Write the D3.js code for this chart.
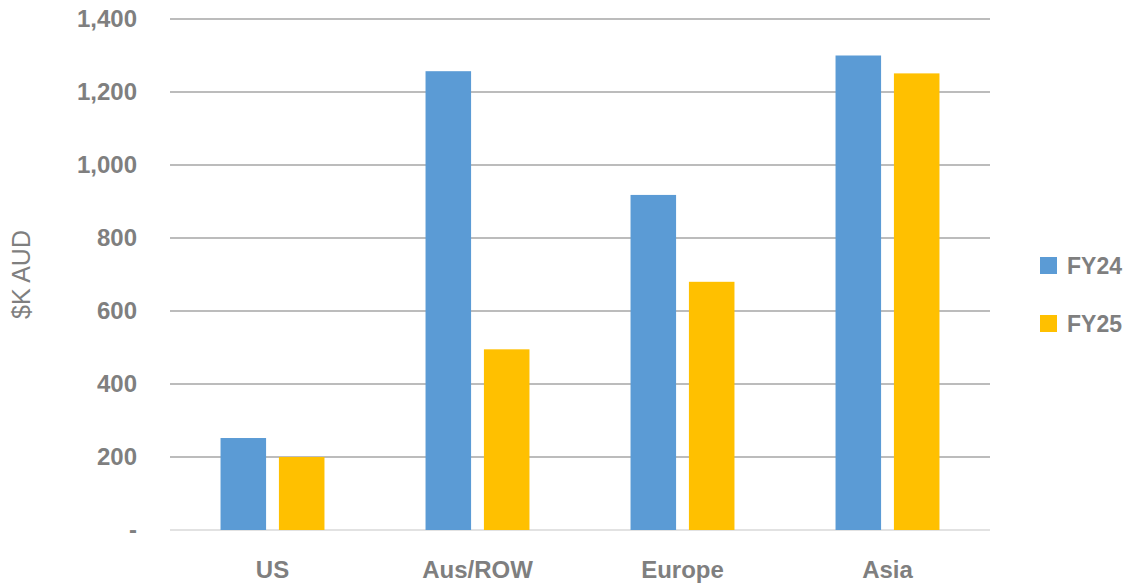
<!DOCTYPE html>
<html>
<head>
<meta charset="utf-8">
<script src="https://cdn.jsdelivr.net/npm/d3@7"></script>
<style>
  body { margin: 0; background: #fff; }
  text { font-family: "Liberation Sans", Arial, sans-serif; }
</style>
</head>
<body>
<div id="chart"></div>
<script>
// Данные графика
const categories = ['US', 'Aus/ROW', 'Europe', 'Asia']
const seriesNames = ['FY24', 'FY25']
const fy24 = [252, 1257, 918, 1300]
const fy25 = [200, 495, 680, 1251]
const yTicks = [0, 200, 400, 600, 800, 1000, 1200, 1400]
const colors = ['#5B9BD5', '#FFC000']

const W = 1148, H = 585
const plotLeft = 170, plotRight = 990, plotTop = 19, plotBottom = 530

let svg = d3.select('#chart').append('svg')
  .attr('width', W)
  .attr('height', H)

let y = d3.scaleLinear().domain([0, 1400]).range([plotBottom, plotTop])

let x0 = d3.scaleBand().domain(categories).range([plotLeft, plotRight])
  .paddingInner(0.493).paddingOuter(0.2465)

let x1 = d3.scaleBand().domain(seriesNames).range([0, x0.bandwidth()])
  .paddingInner(0.22)

// сетка
svg.append('g')
  .selectAll('line')
  .data(yTicks)
  .join('line')
  .attr('x1', plotLeft)
  .attr('x2', plotRight)
  .attr('y1', d => y(d))
  .attr('y2', d => y(d))
  .style('stroke', d => d === 0 ? '#d9d9d9' : '#a6a6a6')
  .style('stroke-width', 1.5)

// подписи оси Y
svg.append('g')
  .selectAll('text')
  .data(yTicks)
  .join('text')
  .attr('x', 137)
  .attr('y', d => y(d))
  .attr('dy', '0.35em')
  .attr('text-anchor', 'end')
  .style('font-size', '24px')
  .style('font-weight', 'bold')
  .style('fill', '#7f7f7f')
  .text(d => d === 0 ? '-' : d3.format(',')(d))

// заголовок оси Y
svg.append('text')
  .attr('transform', `translate(30,${(plotTop + plotBottom) / 2}) rotate(-90)`)
  .attr('text-anchor', 'middle')
  .style('font-size', '25px')
  .style('fill', '#7f7f7f')
  .text('$K AUD')

// столбцы
let rows = categories.map((c, i) => ({cat: c, vals: [fy24[i], fy25[i]]}))

let groups = svg.append('g')
  .selectAll('g')
  .data(rows)
  .join('g')
  .attr('transform', d => `translate(${x0(d.cat)},0)`)

groups.selectAll('rect')
  .data(d => d.vals.map((v, j) => ({name: seriesNames[j], v: v, j: j})))
  .join('rect')
  .attr('x', d => x1(d.name))
  .attr('width', x1.bandwidth())
  .attr('y', d => y(d.v))
  .attr('height', d => plotBottom - y(d.v))
  .style('fill', d => colors[d.j])

// подписи оси X
svg.append('g')
  .selectAll('text')
  .data(categories)
  .join('text')
  .attr('x', d => x0(d) + x0.bandwidth() / 2)
  .attr('y', 578)
  .attr('text-anchor', 'middle')
  .style('font-size', '24px')
  .style('font-weight', 'bold')
  .style('fill', '#7f7f7f')
  .text(d => d)

// легенда
let legend = svg.append('g')
  .selectAll('g')
  .data(seriesNames)
  .join('g')
  .attr('transform', (d, i) => `translate(1040,${257 + i * 58})`)

legend.append('rect')
  .attr('width', 17)
  .attr('height', 17)
  .style('fill', (d, i) => colors[i])

legend.append('text')
  .attr('x', 27)
  .attr('y', 9)
  .attr('dy', '0.35em')
  .style('font-size', '23px')
  .style('font-weight', 'bold')
  .style('fill', '#7f7f7f')
  .text(d => d)
</script>
</body>
</html>
